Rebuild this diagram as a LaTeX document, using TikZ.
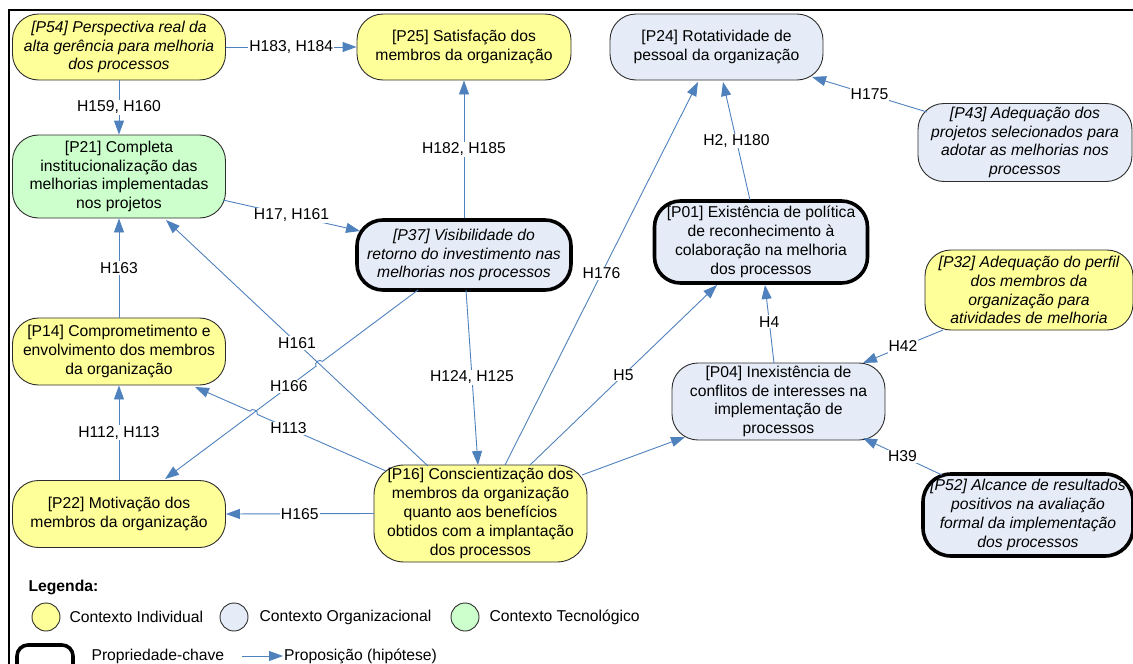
\documentclass[tikz,border=0pt]{standalone}
\usepackage{fontspec}
\setmainfont{Liberation Sans}
\usetikzlibrary{arrows.meta,calc}
\definecolor{indivfill}{RGB}{255,255,153}
\definecolor{orgfill}{RGB}{230,236,247}
\definecolor{tecfill}{RGB}{204,255,204}
\definecolor{hypo}{RGB}{79,129,189}
\definecolor{rim}{RGB}{45,45,45}

\begin{document}
\begin{tikzpicture}[x=1pt,y=-1pt,
  every node/.style={font=\fontsize{15.7}{18.8}\selectfont},
  ital/.style={font=\fontsize{15.7}{18.8}\selectfont\itshape},
  prop/.style={draw=rim, line width=0.9pt, rounded corners=26pt, align=center, inner sep=0pt},
  keyprop/.style={prop, draw=black, line width=3.6pt},
  ctxind/.style={fill=indivfill},
  ctxorg/.style={fill=orgfill},
  ctxtec/.style={fill=tecfill},
  hyp/.style={draw=hypo, line width=0.9pt, -{Triangle[length=14pt,width=10pt]}},
  hop/.style={bend right=90, looseness=1.3},
  lbl/.style={fill=white, inner sep=1pt, midway, text=black}
]
\useasboundingbox (0,0) rectangle (1133,664);
\clip (0,0) rectangle (1133,664);

% outer frame
\draw[line width=2.4pt] (9,10) rectangle (1160,700);

% propositions
\node[prop, ctxind, ital, minimum width=213pt, minimum height=66pt] (P54) at (119,47)
  {[P54] Perspectiva real da\\alta gerência para melhoria\\dos processos};
\node[prop, ctxind, minimum width=214pt, minimum height=66pt] (P25) at (464,47)
  {[P25] Satisfação dos\\membros da organização};
\node[prop, ctxorg, minimum width=213pt, minimum height=66pt] (P24) at (716.5,47)
  {[P24] Rotatividade de\\pessoal da organização};
\node[prop, ctxorg, ital, minimum width=214pt, minimum height=78pt] (P43) at (1025,142.5)
  {[P43] Adequação dos\\projetos selecionados para\\adotar as melhorias nos\\processos};
\node[prop, ctxtec, minimum width=213pt, minimum height=83pt] (P21) at (119,176.5)
  {[P21] Completa\\institucionalização das\\melhorias implementadas\\nos projetos};
\node[keyprop, ctxorg, ital, minimum width=214pt, minimum height=70pt] (P37) at (464,255)
  {[P37] Visibilidade do\\retorno do investimento nas\\melhorias nos processos};
\node[keyprop, ctxorg, minimum width=213pt, minimum height=82pt] (P01) at (761,242)
  {[P01] Existência de política\\de reconhecimento à\\colaboração na melhoria\\dos processos};
\node[prop, ctxind, ital, minimum width=208pt, minimum height=80pt] (P32) at (1029,290)
  {[P32] Adequação do perfil\\dos membros da\\organização para\\atividades de melhoria};
\node[prop, ctxind, minimum width=213pt, minimum height=67pt] (P14) at (119,351.5)
  {[P14] Comprometimento e\\envolvimento dos membros\\da organização};
\node[prop, ctxorg, minimum width=213pt, minimum height=77pt] (P04) at (778.5,401.5)
  {[P04] Inexistência de\\conflitos de interesses na\\implementação de\\processos};
\node[prop, ctxind, minimum width=213pt, minimum height=97pt, rounded corners=30pt] (P16) at (480.5,513.5)
  {[P16] Conscientização dos\\membros da organização\\quanto aos benefícios\\obtidos com a implantação\\dos processos};
\node[prop, ctxind, minimum width=213pt, minimum height=67pt] (P22) at (119,514)
  {[P22] Motivação dos\\membros da organização};
\node[keyprop, ctxorg, ital, minimum width=210pt, minimum height=82pt, rounded corners=28pt] (P52) at (1028,515)
  {[P52] Alcance de resultados\\positivos na avaliação\\formal da implementação\\dos processos};

% end points of the crossing connectors
\coordinate (h166a) at ($(P37)+(-46,35)$);
\coordinate (h166b) at ($(P22)+(46,-35)$);
\coordinate (h113a) at ($(P16)+(-94.5,-42.5)$);
\coordinate (h113b) at ($(P14)+(76,35.5)$);

% hypotheses
\draw[hyp] (P54.east) -- node[lbl]{H183, H184} (P25.west);
\draw[hyp] (P54.south) -- node[lbl]{H159, H160} (P21.north);
\draw[hyp] ($(P21)+(104,23.5)$) -- node[lbl]{H17, H161} ($(P37)+(-104,-24)$);
\draw[hyp] (P37.north) -- node[lbl]{H182, H185} (P25.south);
\draw[hyp] (P14.north) -- node[lbl]{H163} (P21.south);
\draw[hyp] ($(P16)+(-52.5,-47.5)$) -- node[lbl]{H161} ($(P21)+(47,43.5)$);
% H113 hops over H166, H166 hops over H161
\draw[hyp] (h113a) -- node[lbl, pos=0.757]{H113} ($(h113a)!0.674!(h113b)$)
  to[hop] ($(h113a)!0.712!(h113b)$) -- (h113b);
\draw[hyp] (h166a) -- ($(h166a)!0.378!(h166b)$)
  to[hop] ($(h166a)!0.403!(h166b)$) -- node[lbl, pos=0.18]{H166} (h166b);
\draw[hyp] ($(P37)+(2,35)$) -- node[lbl]{H124, H125} ($(P16)+(-2.5,-48.5)$);
\draw[hyp] ($(P16)+(24.5,-48.5)$) -- node[lbl]{H176} ($(P24)+(-18.5,35)$);
\draw[hyp] ($(P16)+(49.5,-48.5)$) -- node[lbl]{H5} ($(P01)+(-44,43)$);
\draw[hyp] ($(P16)+(101.5,-38.5)$) -- ($(P04)+(-93.5,35.5)$);
\draw[hyp] (P16.west) -- node[lbl]{H165} (P22.east);
\draw[hyp] (P22.north) -- node[lbl]{H112, H113} (P14.south);
\draw[hyp] ($(P01)+(-11,-42)$) -- node[lbl]{H2, H180} ($(P24)+(6.5,35)$);
\draw[hyp] ($(P43)+(-98,-30.5)$) -- node[lbl]{H175} ($(P24)+(95.5,30)$);
\draw[hyp] ($(P04)+(-4.5,-38.5)$) -- node[lbl, pos=0.53]{H4} ($(P01)+(4,43)$);
\draw[hyp] ($(P32)+(-86,40)$) -- node[lbl]{H42} ($(P04)+(84.5,-38.5)$);
\draw[hyp] ($(P52)+(-86,-40)$) -- node[lbl]{H39} ($(P04)+(84.5,36.5)$);

% legend
\node[anchor=west, font=\fontsize{15.7}{18.8}\selectfont\bfseries] (legtitle) at (25,587) {Legenda:};
\node[circle, draw=rim, line width=0.9pt, fill=indivfill, minimum size=28pt, inner sep=0pt] (cind) at (46,617) {};
\node[anchor=west] (tind) at (66,617) {Contexto Individual};
\node[circle, draw=rim, line width=0.9pt, fill=orgfill, minimum size=28pt, inner sep=0pt] (corg) at (234,617) {};
\node[anchor=west] (torg) at (256,617) {Contexto Organizacional};
\node[circle, draw=rim, line width=0.9pt, fill=tecfill, minimum size=28pt, inner sep=0pt] (ctec) at (465,617) {};
\node[anchor=west] (ttec) at (486,617) {Contexto Tecnológico};
\node[draw=black, line width=3.6pt, rounded corners=11pt, minimum width=56pt, minimum height=34pt, inner sep=0pt] (keysample) at (45,662) {};
\node[anchor=west] (tkey) at (88,656) {Propriedade-chave};
\coordinate (arrstart) at (242,656);
\node[anchor=west, inner sep=1pt] (tarr) at (283,656) {Proposição (hipótese)};
\draw[hyp] (arrstart) -- (tarr.west);
\end{tikzpicture}
\end{document}
